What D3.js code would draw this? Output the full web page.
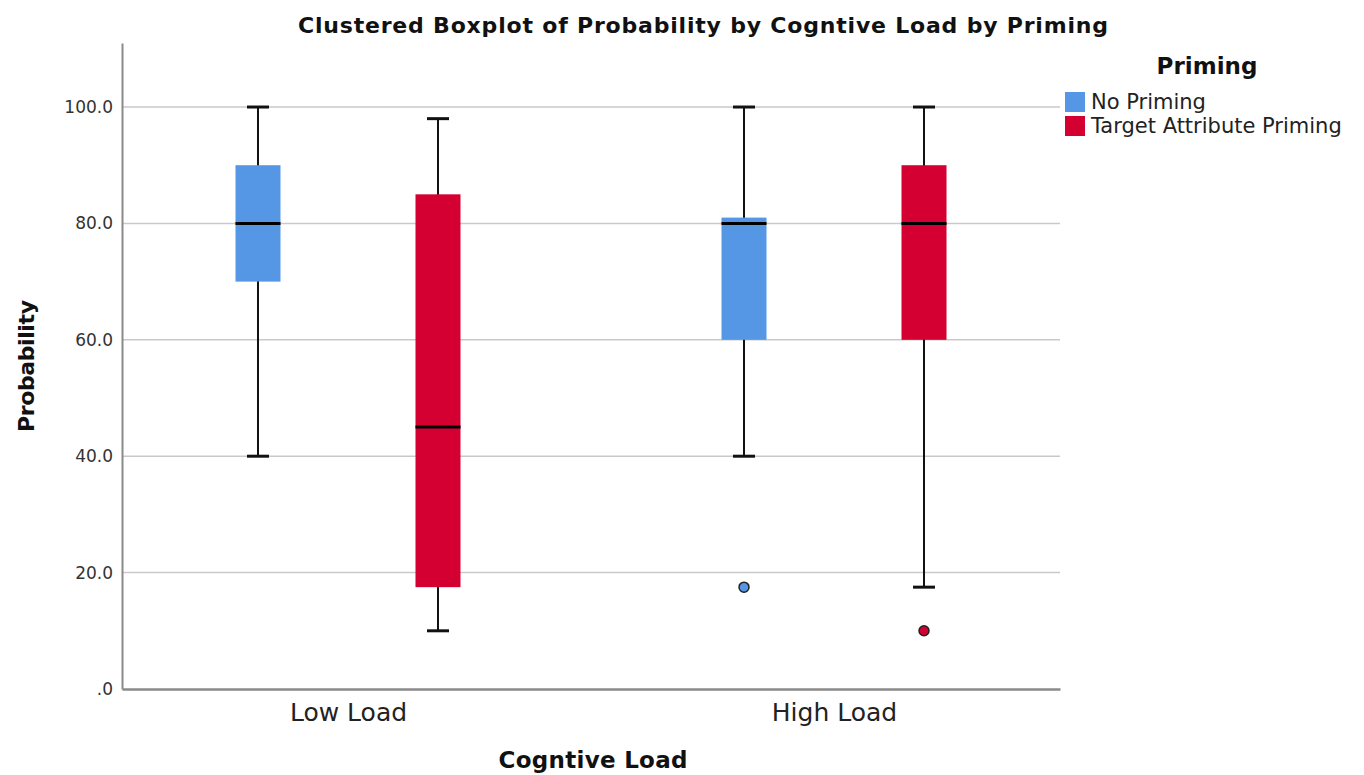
<!DOCTYPE html>
<html>
<head>
<meta charset="utf-8">
<script src="https://cdn.jsdelivr.net/npm/d3@7"></script>
<style>
  body { margin: 0; background: #fff; }
  text { font-family: 'DejaVu Sans', sans-serif; }
</style>
</head>
<body>
<svg id="chart" width="1364" height="775"></svg>
<script>
// data
const loads = ['Low Load', 'High Load']
const primings = ['No Priming', 'Target Attribute Priming']
const colors = ['#5596e5', '#d50032']
// [load, priming, whiskerLow, q1, median, q3, whiskerHigh]
const boxStats = [
  ['Low Load', 'No Priming', 40, 70, 80, 90, 100],
  ['Low Load', 'Target Attribute Priming', 10, 17.5, 45, 85, 98],
  ['High Load', 'No Priming', 40, 60, 80, 81, 100],
  ['High Load', 'Target Attribute Priming', 17.5, 60, 80, 90, 100],
]
const outliers = [
  ['High Load', 'No Priming', 17.5],
  ['High Load', 'Target Attribute Priming', 10],
]
const yTicks = [0, 20, 40, 60, 80, 100]

const margin = { top: 43, right: 304, bottom: 86, left: 122 }
const width = 1364
const height = 775
const chartWidth = width - margin.left - margin.right
const chartHeight = height - margin.top - margin.bottom

const svg = d3.select('#chart')

const x = d3.scalePoint().domain(loads).range([0, chartWidth]).padding(0.465)
const xInner = d3.scalePoint().domain(primings).range([-90, 90])
const y = d3.scaleLinear().domain([0, 111]).range([chartHeight, 0])
const color = d3.scaleOrdinal(primings, colors)

const boxWidth = 45
const capWidth = 22

const g = svg.append('g').attr('transform', `translate(${margin.left},${margin.top})`)

// gridlines
g.append('g')
  .selectAll('line')
  .data(yTicks.filter((d) => d > 0))
  .join('line')
  .attr('x1', 0)
  .attr('x2', chartWidth)
  .attr('y1', (d) => y(d))
  .attr('y2', (d) => y(d))
  .attr('stroke', '#c9c9c9')
  .attr('stroke-width', 1.5)

// y axis
const yAxis = g.append('g')
  .call(d3.axisLeft(y).tickValues(yTicks).tickSize(0).tickPadding(9)
    .tickFormat((d) => (d === 0 ? '.0' : d.toFixed(1))))
yAxis.select('.domain').attr('stroke', '#8a8a8a').attr('stroke-width', 2)
yAxis.selectAll('text').attr('font-size', 17).attr('fill', '#333').style('font-family', "'DejaVu Sans', sans-serif")

// x axis
const xAxis = g.append('g')
  .attr('transform', `translate(0,${chartHeight})`)
  .call(d3.axisBottom(x).tickSize(0).tickPadding(14))
xAxis.select('.domain').attr('stroke', '#8a8a8a').attr('stroke-width', 2.5)
xAxis.selectAll('text').attr('font-size', 25).attr('fill', '#222').style('font-family', "'DejaVu Sans', sans-serif")

// boxes
const boxes = g.append('g')
  .selectAll('g')
  .data(boxStats)
  .join('g')
  .attr('transform', (d) => `translate(${x(d[0]) + xInner(d[1])},0)`)

boxes.append('line')
  .attr('y1', (d) => y(d[2]))
  .attr('y2', (d) => y(d[6]))
  .attr('stroke', '#111')
  .attr('stroke-width', 2)

boxes.selectAll('.cap')
  .data((d) => [d[2], d[6]])
  .join('line')
  .attr('class', 'cap')
  .attr('x1', -capWidth / 2)
  .attr('x2', capWidth / 2)
  .attr('y1', (v) => y(v))
  .attr('y2', (v) => y(v))
  .attr('stroke', '#111')
  .attr('stroke-width', 3)

boxes.append('rect')
  .attr('x', -boxWidth / 2)
  .attr('width', boxWidth)
  .attr('y', (d) => y(d[5]))
  .attr('height', (d) => y(d[3]) - y(d[5]))
  .attr('fill', (d) => color(d[1]))

boxes.append('line')
  .attr('x1', -boxWidth / 2)
  .attr('x2', boxWidth / 2)
  .attr('y1', (d) => y(d[4]))
  .attr('y2', (d) => y(d[4]))
  .attr('stroke', '#000')
  .attr('stroke-width', 3)

// outliers
g.append('g')
  .selectAll('circle')
  .data(outliers)
  .join('circle')
  .attr('cx', (d) => x(d[0]) + xInner(d[1]))
  .attr('cy', (d) => y(d[2]))
  .attr('r', 5)
  .attr('fill', (d) => color(d[1]))
  .attr('stroke', '#222')
  .attr('stroke-width', 1.5)

// title
svg.append('text')
  .attr('x', 703)
  .attr('y', 33)
  .attr('text-anchor', 'middle')
  .attr('font-size', 22)
  .attr('font-weight', 'bold')
  .attr('fill', '#111')
  .attr('textLength', 810)
  .text('Clustered Boxplot of Probability by Cogntive Load by Priming')

// axis titles
svg.append('text')
  .attr('transform', 'translate(34,366) rotate(-90)')
  .attr('text-anchor', 'middle')
  .attr('font-size', 22)
  .attr('font-weight', 'bold')
  .attr('fill', '#111')
  .attr('textLength', 132)
  .text('Probability')

svg.append('text')
  .attr('x', 593)
  .attr('y', 768)
  .attr('text-anchor', 'middle')
  .attr('font-size', 23)
  .attr('font-weight', 'bold')
  .attr('fill', '#111')
  .attr('textLength', 189)
  .text('Cogntive Load')

// legend
const legend = svg.append('g').attr('transform', 'translate(1065,0)')
legend.append('text')
  .attr('x', 142)
  .attr('y', 74)
  .attr('text-anchor', 'middle')
  .attr('font-size', 23)
  .attr('font-weight', 'bold')
  .attr('fill', '#111')
  .text('Priming')

const items = legend.selectAll('.item')
  .data(primings)
  .join('g')
  .attr('class', 'item')
  .attr('transform', (d, i) => `translate(0,${92 + i * 24})`)
items.append('rect').attr('width', 20).attr('height', 20).attr('fill', (d) => color(d))
items.append('text')
  .attr('x', 26)
  .attr('y', 17)
  .attr('font-size', 21)
  .attr('fill', '#222')
  .text((d) => d)
</script>
</body>
</html>
